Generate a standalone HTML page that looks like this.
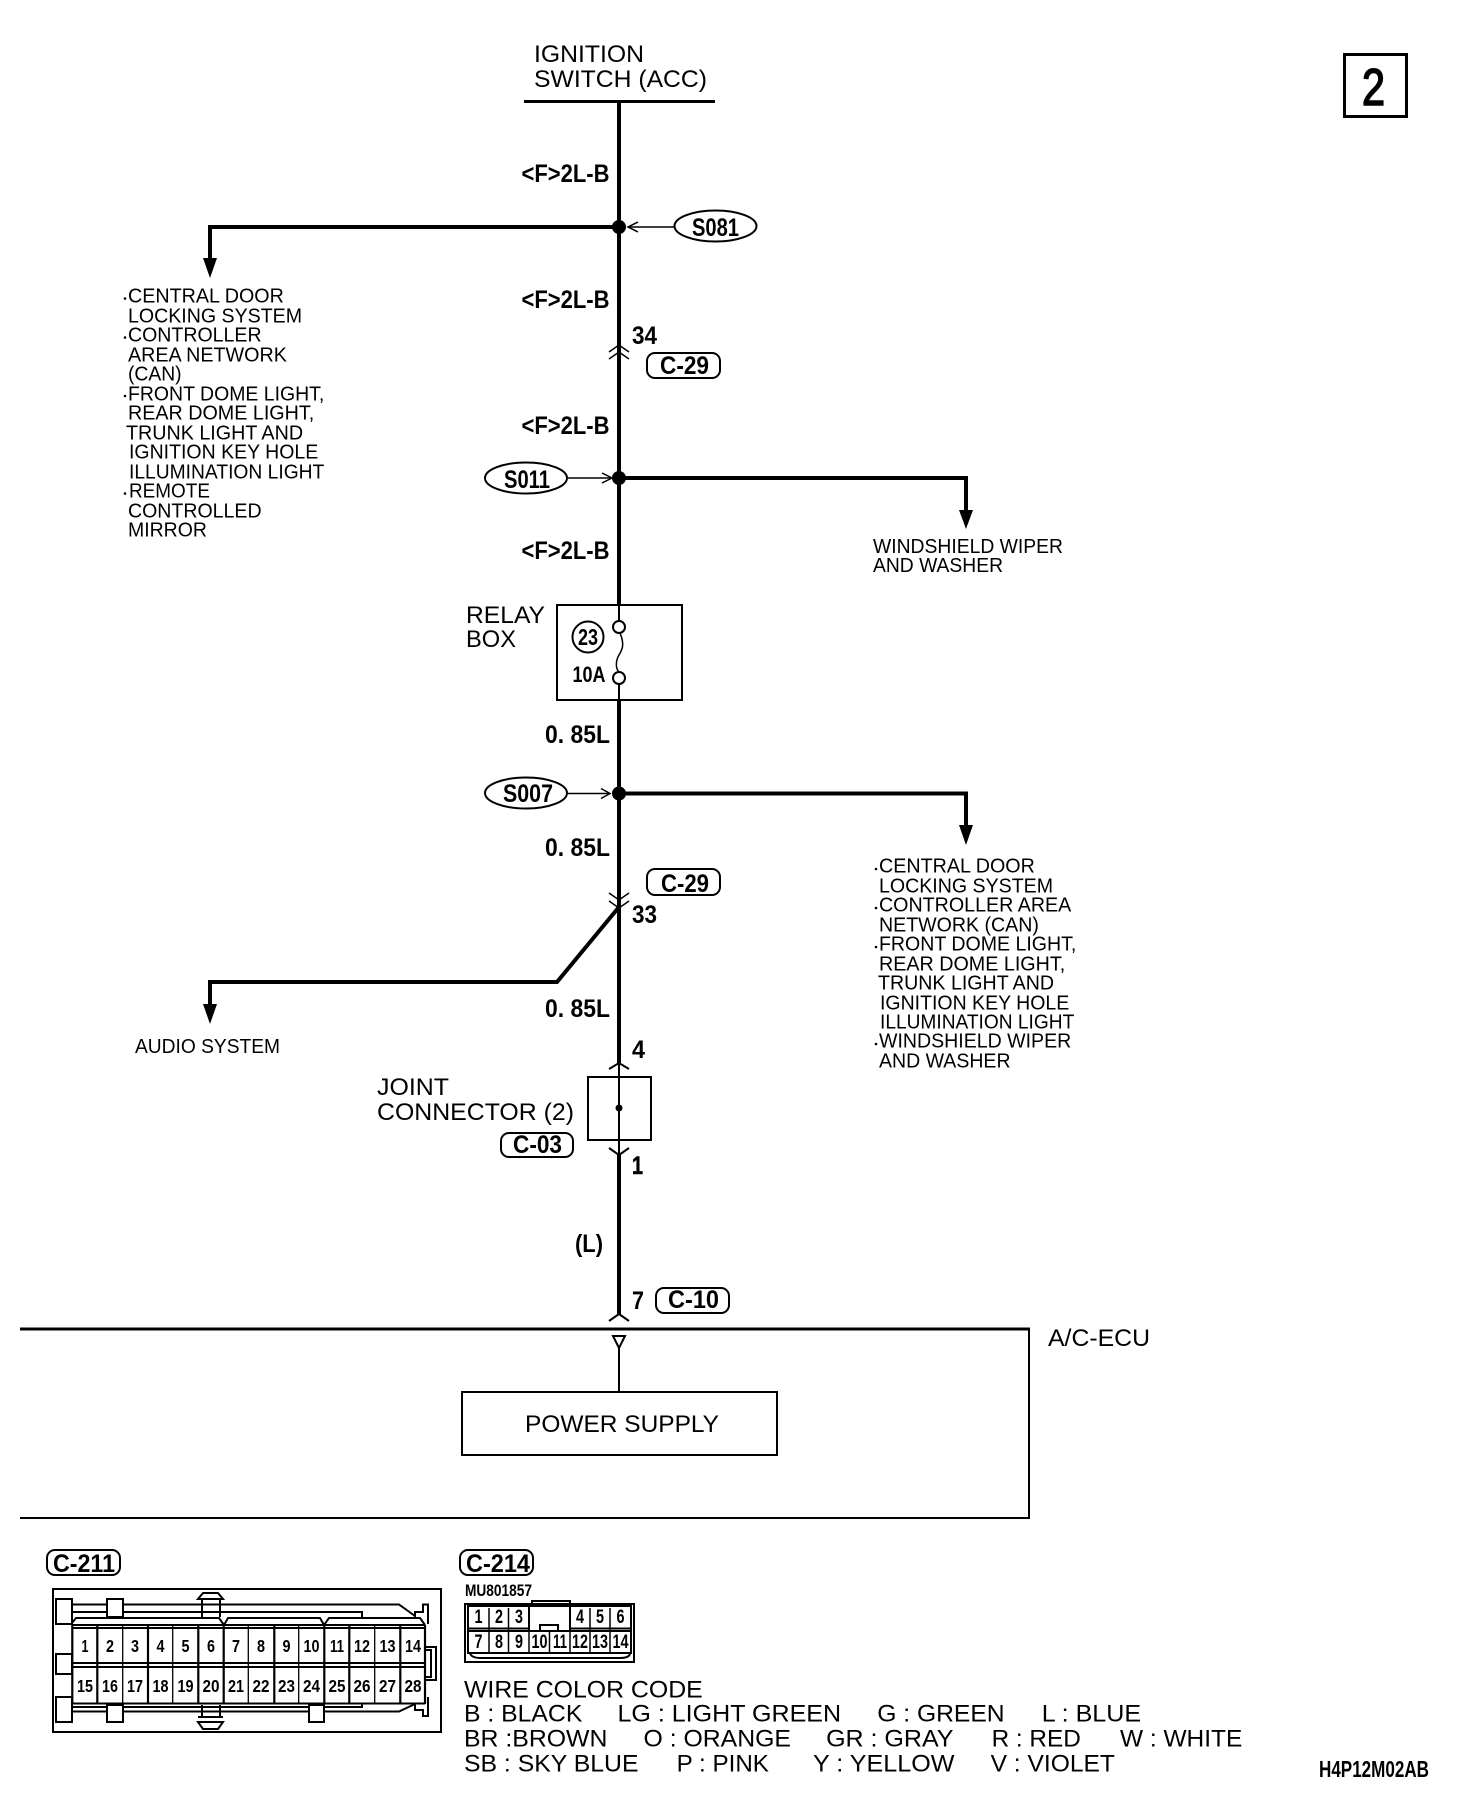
<!DOCTYPE html>
<html><head><meta charset="utf-8">
<style>
html,body{margin:0;padding:0;background:#fff}
svg{display:block}
text{font-family:"Liberation Sans",Arial,sans-serif;fill:#000}
.b{font-weight:bold}
.t{font-size:24px}
.s{font-size:20.5px}
.l{font-size:25px;font-weight:bold}
.n{font-size:17.5px;font-weight:bold;text-anchor:middle}
.m{font-size:19px;font-weight:bold;text-anchor:middle}
.w{fill:none;stroke:#000;stroke-width:4}
.th{fill:none;stroke:#000;stroke-width:2}
.h{fill:none;stroke:#000;stroke-width:1.5}
.p{fill:#fff;stroke:#000;stroke-width:2}
</style></head><body>
<svg xmlns="http://www.w3.org/2000/svg" width="1472" height="1804" viewBox="0 0 1472 1804">
<rect width="1472" height="1804" fill="#fff"/>

<!-- header -->
<text class="t" x="534" y="62" textLength="110" lengthAdjust="spacingAndGlyphs">IGNITION</text>
<text class="t" x="534" y="87" textLength="173" lengthAdjust="spacingAndGlyphs">SWITCH (ACC)</text>
<line x1="524" y1="101.5" x2="715" y2="101.5" stroke="#000" stroke-width="3"/>
<rect x="1344.5" y="54.5" width="62" height="62" fill="none" stroke="#000" stroke-width="3"/>
<text x="1362" y="105" font-size="52" textLength="23" lengthAdjust="spacingAndGlyphs" stroke="#000" stroke-width="1.6">2</text>

<!-- main wire -->
<line class="w" x1="619" y1="100" x2="619" y2="604"/>
<line class="th" x1="619" y1="604" x2="619" y2="621"/>
<line class="th" x1="619" y1="684" x2="619" y2="700"/>
<line class="w" x1="619" y1="700" x2="619" y2="1063"/>
<line class="th" x1="619" y1="1063" x2="619" y2="1155"/>
<line class="w" x1="619" y1="1155" x2="619" y2="1314"/>

<!-- wire labels -->
<text class="l" x="521.5" y="182" textLength="88" lengthAdjust="spacingAndGlyphs">&lt;F&gt;2L-B</text>
<text class="l" x="521.5" y="308" textLength="88" lengthAdjust="spacingAndGlyphs">&lt;F&gt;2L-B</text>
<text class="l" x="521.5" y="434" textLength="88" lengthAdjust="spacingAndGlyphs">&lt;F&gt;2L-B</text>
<text class="l" x="521.5" y="559" textLength="88" lengthAdjust="spacingAndGlyphs">&lt;F&gt;2L-B</text>
<text class="l" x="545" y="743" textLength="65" lengthAdjust="spacingAndGlyphs">0. 85L</text>
<text class="l" x="545" y="856" textLength="65" lengthAdjust="spacingAndGlyphs">0. 85L</text>
<text class="l" x="545" y="1017" textLength="65" lengthAdjust="spacingAndGlyphs">0. 85L</text>

<!-- S081 -->
<circle cx="619" cy="227" r="7"/>
<path class="w" d="M619 227H210V262"/>
<polygon points="203,258 217,258 210,278"/>
<line class="h" x1="628" y1="227" x2="674" y2="227"/>
<path class="h" d="M638 222L628 227L638 232"/>
<ellipse class="p" cx="715.5" cy="226" rx="41" ry="15.5" stroke-width="2.5"/>
<text class="l" x="692" y="236" textLength="47" lengthAdjust="spacingAndGlyphs">S081</text>

<!-- left list -->
<g transform="translate(-2.55 -0.7) scale(1.012 1)">
<text class="s" x="129" y="303" textLength="154" lengthAdjust="spacingAndGlyphs">CENTRAL DOOR</text>
<text class="s" x="129" y="323" textLength="172" lengthAdjust="spacingAndGlyphs">LOCKING SYSTEM</text>
<text class="s" x="129" y="342" textLength="132" lengthAdjust="spacingAndGlyphs">CONTROLLER</text>
<text class="s" x="129" y="362" textLength="157" lengthAdjust="spacingAndGlyphs">AREA NETWORK</text>
<text class="s" x="129" y="381" textLength="53" lengthAdjust="spacingAndGlyphs">(CAN)</text>
<text class="s" x="129" y="401" textLength="194" lengthAdjust="spacingAndGlyphs">FRONT DOME LIGHT,</text>
<text class="s" x="129" y="420" textLength="184" lengthAdjust="spacingAndGlyphs">REAR DOME LIGHT,</text>
<text class="s" x="127" y="440" textLength="175" lengthAdjust="spacingAndGlyphs">TRUNK LIGHT AND</text>
<text class="s" x="130" y="459" textLength="187" lengthAdjust="spacingAndGlyphs">IGNITION KEY HOLE</text>
<text class="s" x="130" y="479" textLength="193" lengthAdjust="spacingAndGlyphs">ILLUMINATION LIGHT</text>
<text class="s" x="130" y="498" textLength="80" lengthAdjust="spacingAndGlyphs">REMOTE</text>
<text class="s" x="129" y="518" textLength="132" lengthAdjust="spacingAndGlyphs">CONTROLLED</text>
<text class="s" x="129" y="537" textLength="78" lengthAdjust="spacingAndGlyphs">MIRROR</text>
</g>
<circle cx="125" cy="298.500" r="1.300"/>
<circle cx="125" cy="337.500" r="1.300"/>
<circle cx="125" cy="396" r="1.300"/>
<circle cx="125" cy="493.500" r="1.300"/>

<!-- 34 connector -->
<text class="l" x="632" y="344" textLength="25" lengthAdjust="spacingAndGlyphs">34</text>
<path class="h" d="M609 352L619 345L629 352M609 359L619 352L629 359"/>
<rect class="p" x="647" y="353" width="73" height="25" rx="8"/>
<text class="l" x="660" y="374" textLength="49" lengthAdjust="spacingAndGlyphs">C-29</text>

<!-- S011 -->
<circle cx="619" cy="478" r="7"/>
<path class="w" d="M619 478H966V514"/>
<polygon points="959,510 973,510 966,529"/>
<line class="h" x1="568" y1="478" x2="611" y2="478"/>
<path class="h" d="M602 473L612 478L602 483"/>
<ellipse class="p" cx="526" cy="478" rx="41" ry="15.500" stroke-width="2.500"/>
<text class="l" x="504" y="488" textLength="46" lengthAdjust="spacingAndGlyphs">S011</text>
<text class="s" x="873" y="553" textLength="190" lengthAdjust="spacingAndGlyphs">WINDSHIELD WIPER</text>
<text class="s" x="873" y="572" textLength="130" lengthAdjust="spacingAndGlyphs">AND WASHER</text>

<!-- relay box -->
<text class="t" x="466" y="623" textLength="79" lengthAdjust="spacingAndGlyphs">RELAY</text>
<text class="t" x="466" y="647" textLength="50" lengthAdjust="spacingAndGlyphs">BOX</text>
<rect class="th" x="557" y="605" width="125" height="95"/>
<circle class="p" cx="619" cy="627" r="6"/>
<circle class="p" cx="619" cy="678" r="6"/>
<path class="h" d="M620 633C625 645 622 650 619 655C616 660 615 668 619 672"/>
<circle class="p" cx="588" cy="637" r="15.500"/>
<text x="578" y="645" font-size="23" font-weight="bold" textLength="20" lengthAdjust="spacingAndGlyphs">23</text>
<text x="572.5" y="682" font-size="22" font-weight="bold" textLength="33" lengthAdjust="spacingAndGlyphs">10A</text>

<!-- S007 -->
<circle cx="619" cy="793.500" r="7"/>
<path class="w" d="M619 793.500H966V829"/>
<polygon points="959,825 973,825 966,845"/>
<line class="h" x1="568" y1="793.500" x2="609" y2="793.500"/>
<path class="h" d="M601 788.500L610 793.500L601 798.500"/>
<ellipse class="p" cx="526" cy="793" rx="41" ry="15.500" stroke-width="2.500"/>
<text class="l" x="503" y="802" textLength="50" lengthAdjust="spacingAndGlyphs">S007</text>

<!-- right list -->
<g transform="translate(-10.55 -0.7) scale(1.012 1)">
<text class="s" x="879" y="873" textLength="154" lengthAdjust="spacingAndGlyphs">CENTRAL DOOR</text>
<text class="s" x="879" y="893" textLength="172" lengthAdjust="spacingAndGlyphs">LOCKING SYSTEM</text>
<text class="s" x="879" y="912" textLength="190" lengthAdjust="spacingAndGlyphs">CONTROLLER AREA</text>
<text class="s" x="879" y="932" textLength="158" lengthAdjust="spacingAndGlyphs">NETWORK (CAN)</text>
<text class="s" x="879" y="951" textLength="195" lengthAdjust="spacingAndGlyphs">FRONT DOME LIGHT,</text>
<text class="s" x="879" y="971" textLength="184" lengthAdjust="spacingAndGlyphs">REAR DOME LIGHT,</text>
<text class="s" x="878" y="990" textLength="174" lengthAdjust="spacingAndGlyphs">TRUNK LIGHT AND</text>
<text class="s" x="880" y="1010" textLength="187" lengthAdjust="spacingAndGlyphs">IGNITION KEY HOLE</text>
<text class="s" x="880" y="1029" textLength="192" lengthAdjust="spacingAndGlyphs">ILLUMINATION LIGHT</text>
<text class="s" x="879" y="1048" textLength="190" lengthAdjust="spacingAndGlyphs">WINDSHIELD WIPER</text>
<text class="s" x="879" y="1068" textLength="130" lengthAdjust="spacingAndGlyphs">AND WASHER</text>
</g>
<circle cx="876" cy="869" r="1.300"/>
<circle cx="876" cy="908" r="1.300"/>
<circle cx="876" cy="947" r="1.300"/>
<circle cx="876" cy="1044" r="1.300"/>

<!-- 33 connector -->
<rect class="p" x="647" y="869" width="73" height="26" rx="8"/>
<text class="l" x="661" y="892" textLength="48" lengthAdjust="spacingAndGlyphs">C-29</text>
<path class="h" d="M609 893L619 900L629 893M609 901L619 908L629 901"/>
<text class="l" x="632" y="923" textLength="25" lengthAdjust="spacingAndGlyphs">33</text>
<path class="w" d="M619 907L557 982H210V1008"/>
<polygon points="203,1004 217,1004 210,1024"/>
<text class="s" x="135" y="1053" textLength="145" lengthAdjust="spacingAndGlyphs">AUDIO SYSTEM</text>

<!-- joint connector -->
<text class="l" x="632" y="1058" textLength="13" lengthAdjust="spacingAndGlyphs">4</text>
<path class="th" d="M609 1069L619 1063L629 1069"/>
<rect class="th" x="588" y="1077" width="63" height="63"/>
<circle cx="619" cy="1108" r="3.500"/>
<path class="th" d="M609 1148L619 1155L629 1148"/>
<text class="l" x="632" y="1174" textLength="11" lengthAdjust="spacingAndGlyphs" stroke="#000" stroke-width="0.6">1</text>
<text class="t" x="377" y="1095" textLength="72" lengthAdjust="spacingAndGlyphs">JOINT</text>
<text class="t" x="377" y="1120" textLength="197" lengthAdjust="spacingAndGlyphs">CONNECTOR (2)</text>
<rect class="p" x="501" y="1133" width="72" height="24" rx="8"/>
<text class="l" x="513" y="1153" textLength="49" lengthAdjust="spacingAndGlyphs">C-03</text>
<text class="l" x="575" y="1252" textLength="28" lengthAdjust="spacingAndGlyphs">(L)</text>
<text class="l" x="632" y="1309" textLength="12" lengthAdjust="spacingAndGlyphs">7</text>
<rect class="p" x="656" y="1288" width="73" height="25" rx="8"/>
<text class="l" x="668" y="1308" textLength="51" lengthAdjust="spacingAndGlyphs">C-10</text>
<path class="th" d="M609 1321L619 1314L629 1321"/>

<!-- ECU -->
<line x1="20" y1="1329" x2="1030" y2="1329" stroke="#000" stroke-width="3"/>
<line class="th" x1="1029" y1="1329" x2="1029" y2="1518"/>
<line class="th" x1="20" y1="1518" x2="1030" y2="1518"/>
<text class="t" x="1048" y="1346" textLength="102" lengthAdjust="spacingAndGlyphs">A/C-ECU</text>
<polygon class="th" points="613,1336 625,1336 619,1348"/>
<line class="th" x1="619" y1="1348" x2="619" y2="1392"/>
<rect class="th" x="462" y="1392" width="315" height="63"/>
<text class="t" x="525" y="1432" textLength="194" lengthAdjust="spacingAndGlyphs">POWER SUPPLY</text>

<!-- C-211 -->
<rect class="p" x="47" y="1550" width="73" height="25" rx="8"/>
<text class="l" x="53" y="1572" textLength="62" lengthAdjust="spacingAndGlyphs">C-211</text>
<rect class="th" x="53" y="1589" width="388" height="143"/>
<!-- latches -->
<path class="th" d="M202 1599V1617M220 1599V1617M198 1599L203 1593H218L223 1599ZM202 1705V1717M220 1705V1717M198 1722L203 1729H218L223 1722ZM198 1717H223"/>
<!-- top/bottom rails -->
<path class="th" d="M72 1604.500H399L415 1616M72 1612H362V1618M72 1707H362V1704M72 1711.500H399L415 1704"/>
<path class="th" d="M72 1623L76 1618H219L224 1625L228 1618H320L324 1625L329 1618H420L425 1625"/>
<!-- tabs -->
<rect class="p" x="56" y="1599" width="16" height="25"/>
<rect class="p" x="56" y="1654" width="16" height="20"/>
<rect class="p" x="56" y="1697" width="16" height="25"/>
<rect class="p" x="107" y="1599" width="16" height="18"/>
<rect class="p" x="107" y="1705" width="16" height="17"/>
<rect class="p" x="309" y="1705" width="15" height="17"/>
<!-- clips -->
<path class="th" d="M415 1617V1612H423V1604.500H428V1624M415 1704V1710H423V1716H428V1697"/>
<path class="th" d="M425 1647H436V1680H425M425 1650H431V1677H425"/>
<!-- body -->
<path class="th" d="M72 1625H425M72 1628H425M72 1663H425M72 1667H425M72 1703.500H425"/>
<path stroke="#000" stroke-width="2.200" fill="none" d="M72.300 1625V1704M97.300 1625V1704M148 1625V1704M198.300 1625V1704M223.700 1625V1704M274.300 1625V1704M324.300 1625V1704M349.300 1625V1704M400.300 1625V1704M425 1625V1704"/>
<path stroke="#000" stroke-width="1.300" fill="none" d="M122.700 1625V1704M172.700 1625V1704M248.300 1625V1704M298.700 1625V1704M374.700 1625V1704"/>
<text class="n" x="85" y="1652" textLength="7" lengthAdjust="spacingAndGlyphs">1</text>
<text class="n" x="110" y="1652" textLength="8" lengthAdjust="spacingAndGlyphs">2</text>
<text class="n" x="135" y="1652" textLength="8" lengthAdjust="spacingAndGlyphs">3</text>
<text class="n" x="160.500" y="1652" textLength="8" lengthAdjust="spacingAndGlyphs">4</text>
<text class="n" x="185.500" y="1652" textLength="8" lengthAdjust="spacingAndGlyphs">5</text>
<text class="n" x="211" y="1652" textLength="8" lengthAdjust="spacingAndGlyphs">6</text>
<text class="n" x="236" y="1652" textLength="8" lengthAdjust="spacingAndGlyphs">7</text>
<text class="n" x="261" y="1652" textLength="8" lengthAdjust="spacingAndGlyphs">8</text>
<text class="n" x="286.500" y="1652" textLength="8" lengthAdjust="spacingAndGlyphs">9</text>
<text class="n" x="311.500" y="1652" textLength="16" lengthAdjust="spacingAndGlyphs">10</text>
<text class="n" x="337" y="1652" textLength="14" lengthAdjust="spacingAndGlyphs">11</text>
<text class="n" x="362" y="1652" textLength="16" lengthAdjust="spacingAndGlyphs">12</text>
<text class="n" x="387.500" y="1652" textLength="16" lengthAdjust="spacingAndGlyphs">13</text>
<text class="n" x="413" y="1652" textLength="16" lengthAdjust="spacingAndGlyphs">14</text>
<text class="n" x="85" y="1692" textLength="16" lengthAdjust="spacingAndGlyphs">15</text>
<text class="n" x="110" y="1692" textLength="16" lengthAdjust="spacingAndGlyphs">16</text>
<text class="n" x="135" y="1692" textLength="16" lengthAdjust="spacingAndGlyphs">17</text>
<text class="n" x="160.500" y="1692" textLength="16" lengthAdjust="spacingAndGlyphs">18</text>
<text class="n" x="185.500" y="1692" textLength="16" lengthAdjust="spacingAndGlyphs">19</text>
<text class="n" x="211" y="1692" textLength="17" lengthAdjust="spacingAndGlyphs">20</text>
<text class="n" x="236" y="1692" textLength="16" lengthAdjust="spacingAndGlyphs">21</text>
<text class="n" x="261" y="1692" textLength="17" lengthAdjust="spacingAndGlyphs">22</text>
<text class="n" x="286.500" y="1692" textLength="17" lengthAdjust="spacingAndGlyphs">23</text>
<text class="n" x="311.500" y="1692" textLength="17" lengthAdjust="spacingAndGlyphs">24</text>
<text class="n" x="337" y="1692" textLength="17" lengthAdjust="spacingAndGlyphs">25</text>
<text class="n" x="362" y="1692" textLength="17" lengthAdjust="spacingAndGlyphs">26</text>
<text class="n" x="387.500" y="1692" textLength="17" lengthAdjust="spacingAndGlyphs">27</text>
<text class="n" x="413" y="1692" textLength="17" lengthAdjust="spacingAndGlyphs">28</text>

<!-- C-214 -->
<rect class="p" x="460" y="1550" width="73" height="25" rx="8"/>
<text class="l" x="466" y="1572" textLength="64" lengthAdjust="spacingAndGlyphs">C-214</text>
<text x="465" y="1596" font-size="17" font-weight="bold" textLength="67" lengthAdjust="spacingAndGlyphs">MU801857</text>
<rect class="th" x="465" y="1604" width="169" height="58"/>
<path class="th" d="M532 1603V1601H570V1603"/>
<path class="th" d="M468 1606H631V1653H468ZM468 1628.500H529M570 1628.500H631M468 1631H631M468 1653H631"/>
<path class="th" d="M529 1606V1631M570 1606V1631M540 1630V1625H558V1630"/>
<rect x="530" y="1607" width="39" height="17" fill="#fff"/>
<path class="h" d="M489 1608V1652M508.500 1608V1652M529 1631V1652M549.500 1631V1652M590 1608V1652M610 1608V1652M570 1631V1652"/>
<path class="th" d="M470 1654C472 1657 476 1658 480 1658H620C625 1658 629 1657 630 1654"/>
<text class="m" x="478.500" y="1623" textLength="8" lengthAdjust="spacingAndGlyphs">1</text>
<text class="m" x="499" y="1623" textLength="8" lengthAdjust="spacingAndGlyphs">2</text>
<text class="m" x="519" y="1623" textLength="8" lengthAdjust="spacingAndGlyphs">3</text>
<text class="m" x="580" y="1623" textLength="8" lengthAdjust="spacingAndGlyphs">4</text>
<text class="m" x="600" y="1623" textLength="8" lengthAdjust="spacingAndGlyphs">5</text>
<text class="m" x="620.500" y="1623" textLength="8" lengthAdjust="spacingAndGlyphs">6</text>
<text class="m" x="478.500" y="1648" textLength="8" lengthAdjust="spacingAndGlyphs">7</text>
<text class="m" x="499" y="1648" textLength="8" lengthAdjust="spacingAndGlyphs">8</text>
<text class="m" x="519" y="1648" textLength="8" lengthAdjust="spacingAndGlyphs">9</text>
<text class="m" x="539.500" y="1648" textLength="16" lengthAdjust="spacingAndGlyphs">10</text>
<text class="m" x="560" y="1648" textLength="14" lengthAdjust="spacingAndGlyphs">11</text>
<text class="m" x="580" y="1648" textLength="16" lengthAdjust="spacingAndGlyphs">12</text>
<text class="m" x="600" y="1648" textLength="16" lengthAdjust="spacingAndGlyphs">13</text>
<text class="m" x="620.500" y="1648" textLength="16" lengthAdjust="spacingAndGlyphs">14</text>

<!-- legend -->
<g transform="translate(-2.4 -0.5) scale(1.003 1)">
<text class="t" x="465" y="1698" textLength="238" lengthAdjust="spacingAndGlyphs">WIRE COLOR CODE</text>
<text class="t" x="465" y="1722" textLength="118" lengthAdjust="spacingAndGlyphs">B : BLACK</text>
<text class="t" x="618" y="1722" textLength="223" lengthAdjust="spacingAndGlyphs">LG : LIGHT GREEN</text>
<text class="t" x="877" y="1722" textLength="127" lengthAdjust="spacingAndGlyphs">G : GREEN</text>
<text class="t" x="1041" y="1722" textLength="99" lengthAdjust="spacingAndGlyphs">L : BLUE</text>
<text class="t" x="465" y="1747" textLength="143" lengthAdjust="spacingAndGlyphs">BR :BROWN</text>
<text class="t" x="644" y="1747" textLength="147" lengthAdjust="spacingAndGlyphs">O : ORANGE</text>
<text class="t" x="826" y="1747" textLength="127" lengthAdjust="spacingAndGlyphs">GR : GRAY</text>
<text class="t" x="991" y="1747" textLength="89" lengthAdjust="spacingAndGlyphs">R : RED</text>
<text class="t" x="1119" y="1747" textLength="122" lengthAdjust="spacingAndGlyphs">W : WHITE</text>
<text class="t" x="465" y="1772" textLength="174" lengthAdjust="spacingAndGlyphs">SB : SKY BLUE</text>
<text class="t" x="677" y="1772" textLength="92" lengthAdjust="spacingAndGlyphs">P : PINK</text>
<text class="t" x="813" y="1772" textLength="141" lengthAdjust="spacingAndGlyphs">Y : YELLOW</text>
<text class="t" x="990" y="1772" textLength="124" lengthAdjust="spacingAndGlyphs">V : VIOLET</text>
</g>
<text x="1319" y="1777" font-size="23" font-weight="bold" textLength="110" lengthAdjust="spacingAndGlyphs">H4P12M02AB</text>
</svg>
</body></html>
